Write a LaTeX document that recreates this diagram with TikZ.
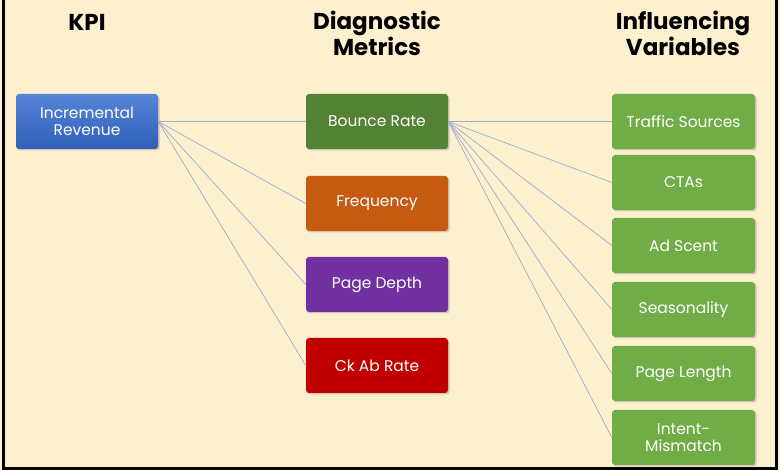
\documentclass[tikz,border=0pt]{standalone}
\usepackage{fontspec}
\setmainfont{Poppins}
\usetikzlibrary{shadows}
\definecolor{bg}{HTML}{FDF0CF}
\definecolor{ln}{HTML}{9AAED0}
\begin{document}
\begin{tikzpicture}[x=1pt,y=-1pt,
 box/.style={draw=none,rounded corners=3pt,minimum width=142pt,minimum height=55pt,text=white,font=\fontsize{15.5}{17}\selectfont,align=center,drop shadow={opacity=0.35,shadow xshift=1.5pt,shadow yshift=-1.5pt}},
 hd/.style={font=\fontsize{23}{26}\selectfont\bfseries,align=center},
 con/.style={draw=ln,line width=0.7pt}]
\useasboundingbox (0,0) rectangle (780,470);
\fill[bg] (0,0) rectangle (780,470);
\draw[line width=3pt] (3,-5) -- (3,468.5) -- (776.5,468.5) -- (776.5,-5);
\node[hd] (h1) at (87,22) {KPI};
\node[hd,text width=200pt] (h2) at (377,33) {Diagnostic\\Metrics};
\node[hd,text width=200pt] (h3) at (683,33) {Influencing\\Variables};
\node[box,top color={rgb,255:red,86;green,132;blue,215},bottom color={rgb,255:red,47;green,95;blue,185}] (kpi) at (87,121.5) {Incremental\\Revenue};
\node[box,fill={rgb,255:red,84;green,130;blue,53}] (m1) at (377,121.5) {Bounce Rate};
\node[box,fill={rgb,255:red,197;green,90;blue,17}] (m2) at (377,203.5) {Frequency};
\node[box,fill={rgb,255:red,112;green,48;blue,160}] (m3) at (377,284.5) {Page Depth};
\node[box,fill={rgb,255:red,192;green,0;blue,0}] (m4) at (377,365.5) {Ck Ab Rate};
\tikzset{gbox/.style={box,minimum width=143pt,fill={rgb,255:red,112;green,173;blue,71}}}
\node[gbox] (v1) at (683.5,121.5) {Traffic Sources};
\node[gbox] (v2) at (683.5,182.5) {CTAs};
\node[gbox] (v3) at (683.5,245.5) {Ad Scent};
\node[gbox] (v4) at (683.5,309.5) {Seasonality};
\node[gbox] (v5) at (683.5,373.5) {Page Length};
\node[gbox] (v6) at (683.5,437.5) {Intent-\\Mismatch};
\foreach \m in {m1,m2,m3,m4} \draw[con] (kpi.east) -- (\m.west);
\foreach \v in {v1,v2,v3,v4,v5,v6} \draw[con] (m1.east) -- (\v.west);
\end{tikzpicture}
\end{document}
